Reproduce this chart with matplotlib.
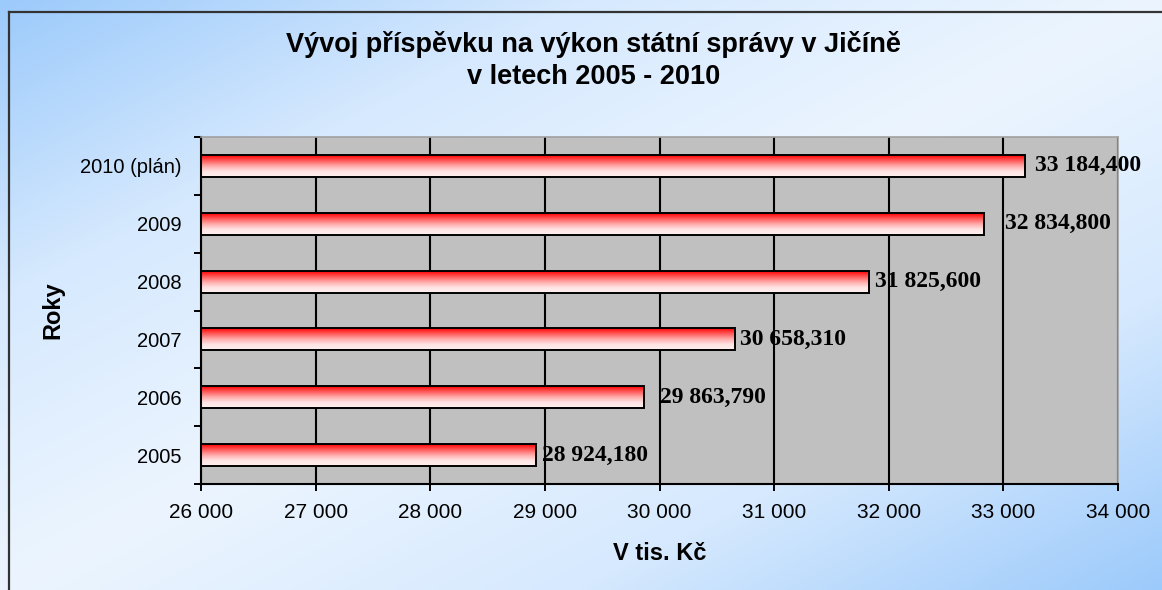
import numpy as np
import matplotlib
matplotlib.use("Agg")
import matplotlib.pyplot as plt
from matplotlib.colors import LinearSegmentedColormap
from matplotlib.lines import Line2D

years = ["2005", "2006", "2007", "2008", "2009", "2010 (plán)"]
values = [28924.180, 29863.790, 30658.310, 31825.600, 32834.800, 33184.400]
value_labels = ["28 924,180", "29 863,790", "30 658,310", "31 825,600", "32 834,800", "33 184,400"]
label_pad = [2, 12, 1, 2, 16, 6]   # px gap between bar end and label, as in the original
xticks = [26000, 27000, 28000, 29000, 30000, 31000, 32000, 33000, 34000]
xtick_labels = ["26 000", "27 000", "28 000", "29 000", "30 000", "31 000", "32 000", "33 000", "34 000"]

plt.rcParams['font.family'] = ['Liberation Sans', 'DejaVu Sans']

fig = plt.figure(figsize=(11.62, 5.9), dpi=100)

# diagonal blue -> white -> blue background
bg = fig.add_axes([0, 0, 1, 1], zorder=-10)
xx, yy = np.meshgrid(np.linspace(0, 1, 400), np.linspace(0, 1, 200))
t = np.abs(xx + yy - 1.0)
bg_cmap = LinearSegmentedColormap.from_list("bg", ["#ecf5ff", "#d6e9fe", "#9ccafb"])
bg.imshow(t, cmap=bg_cmap, aspect="auto", extent=[0, 1, 0, 1], origin="upper")
bg.set_xlim(0, 1)
bg.set_ylim(0, 1)
bg.axis("off")

# chart border (left and top only visible)
fig.add_artist(Line2D([9/1162, 9/1162], [0, 1 - 12/590], color="#333333", lw=1.6))
fig.add_artist(Line2D([9/1162, 1], [1 - 12/590, 1 - 12/590], color="#333333", lw=1.6))

ax = fig.add_axes([201/1162, 1 - 484/590, (1118 - 201)/1162, (484 - 137)/590])
ax.set_facecolor("#c0c0c0")

y = np.arange(len(years))
bars = ax.barh(y, values, height=0.38, left=0, color="none", edgecolor="black", lw=1.4, zorder=3)

bar_cmap = LinearSegmentedColormap.from_list("bar", ["#ff0000", "#ff5a5a", "#ffaaaa", "#ffe4e4", "#fff0f0"])
grad = np.linspace(0, 1, 100).reshape(-1, 1)
for rect in bars:
    x0 = 26000
    x1 = rect.get_x() + rect.get_width()
    y0 = rect.get_y()
    y1 = y0 + rect.get_height()
    im = ax.imshow(grad, cmap=bar_cmap, aspect="auto", extent=[x0, x1, y0, y1],
                   origin="upper", zorder=2)
    im.set_clip_path(rect)

for yi, v, lab, pad in zip(y, values, value_labels, label_pad):
    ax.annotate(lab, xy=(v, yi), xytext=(pad * 0.72 + 3, 0), textcoords="offset points",
                ha="left", va="center", fontsize=17, fontweight="bold",
                family="Liberation Serif", zorder=5)

ax.set_xlim(26000, 34000)
ax.set_ylim(-0.5, len(years) - 0.5)

ax.set_xticks(xticks)
ax.set_xticklabels(xtick_labels, fontsize=15)
ax.xaxis.grid(True, color="black", lw=1.5, zorder=1)
ax.set_axisbelow(True)

ax.set_yticks(np.arange(-0.5, len(years), 1.0))
ax.set_yticklabels([])
ax.set_yticks(y, minor=True)
ax.set_yticklabels(years, minor=True, fontsize=14.5)
ax.tick_params(axis="y", which="minor", length=0, pad=14)
ax.tick_params(axis="y", which="major", direction="out", length=5, width=1.4)
ax.tick_params(axis="x", which="major", direction="out", length=5, width=1.4, pad=9)

for side in ["left", "bottom"]:
    ax.spines[side].set_color("black")
    ax.spines[side].set_linewidth(1.5)
for side in ["top", "right"]:
    ax.spines[side].set_color("#a0a0a0")
    ax.spines[side].set_linewidth(1.2)

ax.set_xlabel("V tis. Kč", fontsize=17, fontweight="bold", labelpad=14)
ax.set_ylabel("Roky", fontsize=17, fontweight="bold", labelpad=11)

fig.text(0.511, 1 - 60/590, "Vývoj příspěvku na výkon státní správy v Jičíně\nv letech 2005 - 2010",
         ha="center", va="center", fontsize=19.5, fontweight="bold", linespacing=1.3)

fig.savefig("out.png", dpi=100)
